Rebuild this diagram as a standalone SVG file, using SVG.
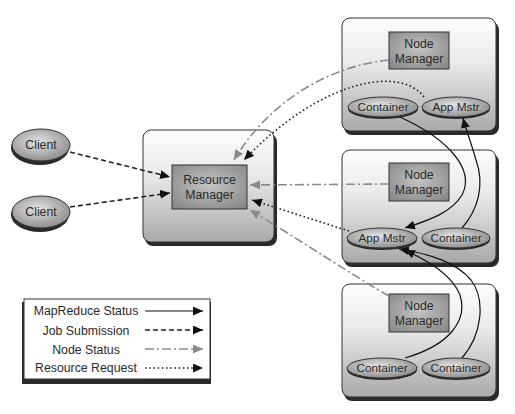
<svg xmlns="http://www.w3.org/2000/svg" width="515" height="414" viewBox="0 0 515 414">
<style>
text{font-family:"Liberation Sans",Arial,sans-serif;font-size:12.3px;fill:#2a2a2a;text-anchor:middle}
.et{font-size:11.8px}
.box{fill:url(#boxG);stroke:#333;stroke-width:1}
.shd{fill:#2a2a2a}
.nm{fill:url(#nmG);stroke:#333;stroke-width:1}
.el{fill:url(#elG);stroke:#333;stroke-width:1}
.mr{fill:none;stroke:#111;stroke-width:1.2;marker-end:url(#ab)}
.js{fill:none;stroke:#222;stroke-width:1.6;stroke-dasharray:5 3;marker-end:url(#ab)}
.ns{fill:none;stroke:#8a8a8a;stroke-width:1.6;stroke-dasharray:9 3 2 3;marker-end:url(#ag)}
.rr{fill:none;stroke:#222;stroke-width:1.6;stroke-dasharray:1.6 2.6;marker-end:url(#ab)}
</style>
<defs>
<linearGradient id="boxG" x1="0" y1="0" x2="0" y2="1">
<stop offset="0" stop-color="#fdfdfd"/><stop offset="0.4" stop-color="#e9e9e9"/><stop offset="1" stop-color="#a9a9a9"/>
</linearGradient>
<radialGradient id="nmG" cx="0.5" cy="0.45" r="0.7">
<stop offset="0" stop-color="#c4c4c4"/><stop offset="1" stop-color="#868686"/>
</radialGradient>
<radialGradient id="elG" cx="0.45" cy="0.4" r="0.65">
<stop offset="0" stop-color="#e4e4e4"/><stop offset="1" stop-color="#888"/>
</radialGradient>
<marker id="ab" markerUnits="userSpaceOnUse" markerWidth="11" markerHeight="9" refX="10" refY="4.5" orient="auto">
<path d="M0,0 L10,4.5 L0,9 z" fill="#111"/>
</marker>
<marker id="ag" markerUnits="userSpaceOnUse" markerWidth="11" markerHeight="9" refX="10" refY="4.5" orient="auto">
<path d="M0,0 L10,4.5 L0,9 z" fill="#8a8a8a"/>
</marker>
</defs>
<rect width="515" height="414" fill="#fff"/>

<g id="client1">
<ellipse class="shd" cx="40" cy="148" rx="29" ry="17"/>
<ellipse class="el" cx="41" cy="145" rx="29" ry="16"/>
<text x="41" y="149">Client</text>
</g>
<g id="client2">
<ellipse class="shd" cx="40" cy="215" rx="29" ry="17"/>
<ellipse class="el" cx="41" cy="212" rx="29" ry="16"/>
<text x="41" y="216">Client</text>
</g>

<g id="resource-manager">
<rect class="shd" x="145" y="134" width="132" height="112" rx="8"/>
<rect class="box" x="143" y="130" width="131" height="112" rx="8"/>
<rect class="nm" x="172" y="165" width="75" height="44"/>
<text x="209.5" y="184">Resource</text>
<text x="209.5" y="199">Manager</text>
</g>

<g id="node1">
<rect class="shd" x="344" y="22" width="155" height="113" rx="8"/>
<rect class="box" x="342" y="18" width="154" height="113" rx="8"/>
<rect class="nm" x="389" y="32" width="60" height="37"/>
<text x="419" y="48">Node</text>
<text x="419" y="63">Manager</text>
<ellipse class="shd" cx="383" cy="109" rx="35" ry="10"/>
<ellipse class="el" cx="383" cy="107" rx="35" ry="10"/>
<text class="et" x="383" y="111">Container</text>
<ellipse class="shd" cx="456" cy="109" rx="34" ry="10"/>
<ellipse class="el" cx="456" cy="107" rx="34" ry="10"/>
<text class="et" x="456" y="111">App Mstr</text>
</g>

<g id="node2">
<rect class="shd" x="344" y="154" width="155" height="113" rx="8"/>
<rect class="box" x="342" y="150" width="154" height="113" rx="8"/>
<rect class="nm" x="389" y="163" width="60" height="38"/>
<text x="419" y="179">Node</text>
<text x="419" y="194">Manager</text>
<ellipse class="shd" cx="382" cy="240" rx="35" ry="10"/>
<ellipse class="el" cx="382" cy="238" rx="35" ry="10"/>
<text class="et" x="382" y="242">App Mstr</text>
<ellipse class="shd" cx="456" cy="240" rx="34" ry="10"/>
<ellipse class="el" cx="456" cy="238" rx="34" ry="10"/>
<text class="et" x="456" y="242">Container</text>
</g>

<g id="node3">
<rect class="shd" x="344" y="288" width="155" height="113" rx="8"/>
<rect class="box" x="342" y="284" width="154" height="113" rx="8"/>
<rect class="nm" x="389" y="294" width="60" height="38"/>
<text x="419" y="310">Node</text>
<text x="419" y="325">Manager</text>
<ellipse class="shd" cx="382" cy="370" rx="35" ry="10"/>
<ellipse class="el" cx="382" cy="368" rx="35" ry="10"/>
<text class="et" x="382" y="372">Container</text>
<ellipse class="shd" cx="456" cy="370" rx="34" ry="10"/>
<ellipse class="el" cx="456" cy="368" rx="34" ry="10"/>
<text class="et" x="456" y="372">Container</text>
</g>

<g id="connectors">
<path class="js" d="M70,152 L170,177"/>
<path class="js" d="M70,207 L170,193"/>
<path class="ns" d="M389,60 C330,66 270,100 234,160"/>
<path class="ns" d="M389,184 L250,185"/>
<path class="ns" d="M389,296 C360,280 300,240 250,210"/>
<path class="rr" d="M424,97 C400,65 320,80 244,160"/>
<path class="rr" d="M349,231 L252,200"/>
<path class="mr" d="M400,117 C450,140 475,170 462,195 C452,212 430,220 405,228"/>
<path class="mr" d="M462,228 C478,210 485,185 476,160 C471,142 466,130 463,118"/>
<path class="mr" d="M405,358 C450,345 468,320 460,295 C452,275 430,262 405,250"/>
<path class="mr" d="M462,358 C482,335 486,300 471,280 C456,262 430,254 399,249"/>
</g>

<g id="legend">
<rect class="shd" x="22" y="302" width="189" height="82"/>
<rect x="24" y="299" width="186" height="80" fill="#fff" stroke="#333" stroke-width="1"/>
<text x="86" y="315">MapReduce Status</text>
<text x="86" y="335">Job Submission</text>
<text x="86" y="354">Node Status</text>
<text x="86" y="372">Resource Request</text>
<path class="mr" d="M145,311 L203,311"/>
<path class="js" d="M145,330 L203,330"/>
<path class="ns" d="M145,349 L203,349"/>
<path class="rr" d="M145,368 L203,368"/>
</g>
</svg>
